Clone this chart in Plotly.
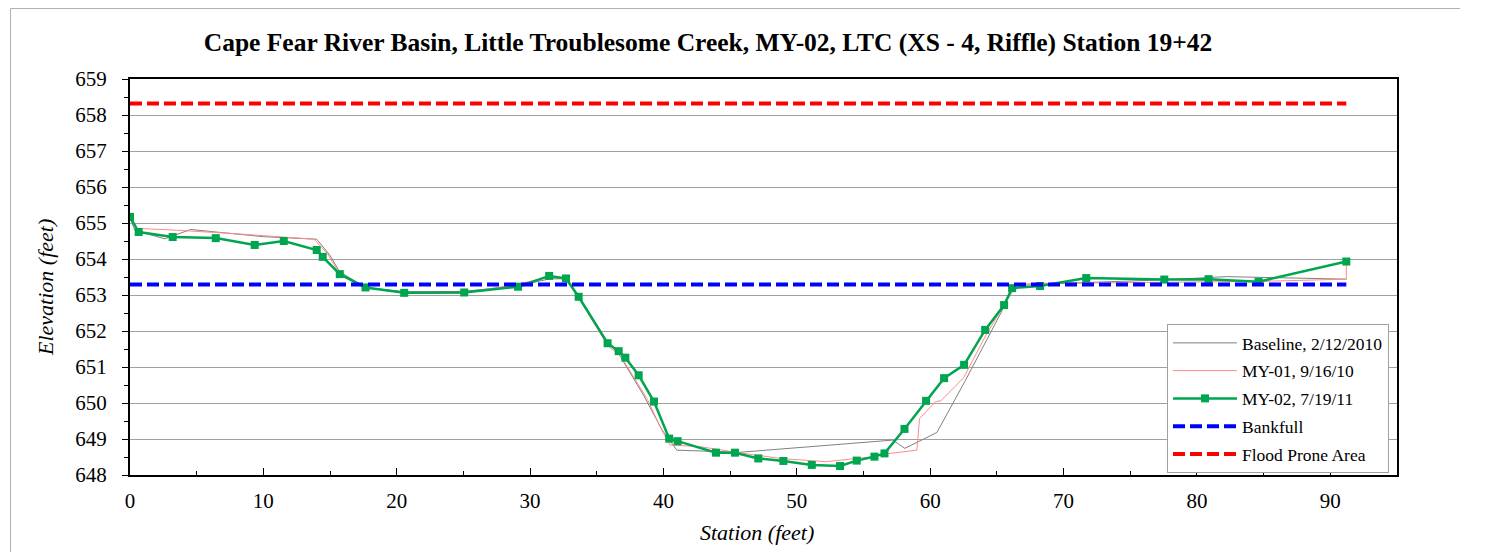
import plotly.graph_objects as go

# ---- Data ----
base_x = [0, 0.35, 2.6, 4.55, 10, 14.0, 15.0, 15.7, 17.7, 20.7, 25, 29, 31.5, 32.8, 33.6,
          35.8, 36.7, 38.5, 39.9, 41.0, 45.7, 57.2, 58.1, 60.5, 62.6, 65.3, 66.2, 68.2,
          72, 77.5, 82.2, 91.2]
base_y = [655.17, 654.8, 654.56, 654.82, 654.62, 654.55, 654.1, 653.65, 653.2, 653.09,
          653.1, 653.25, 653.45, 653.45, 652.95, 651.7, 651.33, 650.22, 649.25, 648.69,
          648.63, 648.97, 648.74, 649.18, 650.6, 652.5, 653.25, 653.3, 653.35, 653.42,
          653.51, 653.44]

my01_x = [0, 0.5, 3.5, 8, 13.8, 14.8, 15.7, 17.7, 21, 25, 29, 31.5, 32.7, 33.6, 35.8,
          36.8, 38.8, 39.8, 40.5, 42.7, 46, 49, 52.2, 55.5, 57, 59.0, 59.2, 60.4, 60.8,
          62.5, 64.2, 65.8, 66.5, 68, 73, 80, 85, 91.2, 91.2]
my01_y = [655.17, 654.85, 654.8, 654.7, 654.55, 654.15, 653.6, 653.2, 653.05, 653.05,
          653.3, 653.5, 653.45, 652.95, 651.6, 651.3, 650.1, 649.3, 648.83, 648.79,
          648.6, 648.45, 648.37, 648.5, 648.6, 648.69, 649.57, 650.04, 650.06, 650.7,
          651.9, 652.86, 653.3, 653.32, 653.34, 653.35, 653.38, 653.44, 653.93]

my02_x = [0, 0.65, 3.2, 6.43, 9.35, 11.53, 14.0, 14.45, 15.73, 17.66, 20.56, 25.06, 29.1,
          31.43, 32.69, 33.64, 35.81, 36.64, 37.14, 38.14, 39.29, 40.43, 41.06, 43.94,
          45.36, 47.11, 48.99, 51.12, 53.24, 54.49, 55.82, 56.57, 58.07, 59.69, 61.04,
          62.54, 64.12, 65.54, 66.14, 68.24, 71.7, 77.55, 80.87, 84.62, 91.2]
my02_y = [655.17, 654.75, 654.61, 654.58, 654.39, 654.5, 654.25, 654.06, 653.58, 653.21,
          653.06, 653.07, 653.23, 653.53, 653.46, 652.95, 651.66, 651.44, 651.26, 650.77,
          650.04, 649.01, 648.94, 648.62, 648.62, 648.46, 648.39, 648.28, 648.25, 648.40,
          648.51, 648.60, 649.28, 650.06, 650.69, 651.06, 652.03, 652.72, 653.19, 653.25,
          653.47, 653.43, 653.44, 653.37, 653.93]

bank_x = [0, 91.2]
bank_y = [653.29, 653.29]
flood_x = [0, 91.2]
flood_y = [658.32, 658.32]

x_ticks = [0, 10, 20, 30, 40, 50, 60, 70, 80, 90]
x_minor = [5, 15, 25, 35, 45, 55, 65, 75, 85, 95]

names = ["Baseline, 2/12/2010", "MY-01, 9/16/10", "MY-02, 7/19/11", "Bankfull", "Flood Prone Area"]

FONT = "Liberation Serif, Times New Roman, serif"

W, H = 1470, 544
PW, PH = 1267, 396

fig = go.Figure()
fig.add_trace(go.Scatter(x=base_x, y=base_y, mode="lines", name=names[0], legendgroup="a",
                         line=dict(color="#808080", width=1)))
fig.add_trace(go.Scatter(x=my01_x, y=my01_y, mode="lines", name=names[1], legendgroup="b",
                         line=dict(color="#ff8a8a", width=1)))
fig.add_trace(go.Scatter(x=my02_x, y=my02_y, mode="lines+markers", name=names[2], legendgroup="c",
                         line=dict(color="#00a550", width=2.5),
                         marker=dict(symbol="square", size=8, color="#00a550")))
fig.add_trace(go.Scatter(x=bank_x, y=bank_y, mode="lines", name=names[3], legendgroup="d",
                         line=dict(color="#0000ff", width=4, dash="12px,5px")))
fig.add_trace(go.Scatter(x=flood_x, y=flood_y, mode="lines", name=names[4], legendgroup="e",
                         line=dict(color="#ff0000", width=4, dash="12px,5px")))

fig.update_layout(
    width=W, height=H,
    margin=dict(l=122, r=W - 122 - PW, t=71, b=H - 71 - PH, pad=0),
    paper_bgcolor="white", plot_bgcolor="white",
    font=dict(family=FONT, color="black"),
    showlegend=True,
    legend=dict(x=(1167 - 130) / PW, y=(475 - 324) / PH, xanchor="left", yanchor="top",
                bgcolor="white", bordercolor="#a0a0a0", borderwidth=1,
                font=dict(family=FONT, size=17.5, color="black"),
                tracegroupgap=2, itemwidth=64),
    title=dict(text="<b>Cape Fear River Basin, Little Troublesome Creek, MY-02, LTC (XS - 4, Riffle) Station 19+42</b>",
               x=700 / W, xref="container", xanchor="center",
               y=1 - 34 / H, yref="container", yanchor="middle",
               font=dict(family=FONT, size=25.5, color="black")),
    xaxis=dict(range=[0, 95], tickvals=x_ticks,
               ticks="inside", ticklen=7, tickcolor="black", tickwidth=1,
               minor=dict(tickvals=x_minor, ticks="inside", ticklen=4, tickcolor="black"),
               showgrid=False, zeroline=False,
               showline=True, linecolor="black", linewidth=2, mirror=True,
               tickfont=dict(family=FONT, size=21, color="black"), ticklabelstandoff=6),
    yaxis=dict(range=[648, 659], dtick=1, tick0=648,
               ticks="outside", ticklen=6, tickcolor="black", tickwidth=1,
               minor=dict(dtick=0.5, ticks="outside", ticklen=4, tickcolor="black", showgrid=False),
               showgrid=True, gridcolor="#a0a0a0", gridwidth=1, zeroline=False,
               showline=True, linecolor="black", linewidth=2, mirror=True,
               tickfont=dict(family=FONT, size=21, color="black"), ticklabelstandoff=11),
    annotations=[
        dict(text="<i>Station (feet)</i>", x=(757 - 130) / PW, y=-(532 - 475) / PH,
             xref="paper", yref="paper",
             xanchor="center", yanchor="middle", showarrow=False,
             font=dict(family=FONT, size=22, color="black")),
        dict(text="<i>Elevation (feet)</i>", x=-(130 - 45) / PW, y=(475 - 288) / PH,
             xref="paper", yref="paper",
             xanchor="center", yanchor="middle", showarrow=False, textangle=-90,
             font=dict(family=FONT, size=22, color="black")),
    ],
    shapes=[
        dict(type="line", xref="paper", yref="paper", x0=-(130 - 10.5) / PW, x1=-(130 - 10.5) / PW,
             y0=(475 - 8.5) / PH, y1=-0.3, line=dict(color="#b0b0b0", width=1)),
        dict(type="line", xref="paper", yref="paper", x0=-(130 - 10.5) / PW, x1=(1460 - 130) / PW,
             y0=(475 - 8.5) / PH, y1=(475 - 8.5) / PH, line=dict(color="#b0b0b0", width=1)),
    ],
)

fig.write_html("out.html")
